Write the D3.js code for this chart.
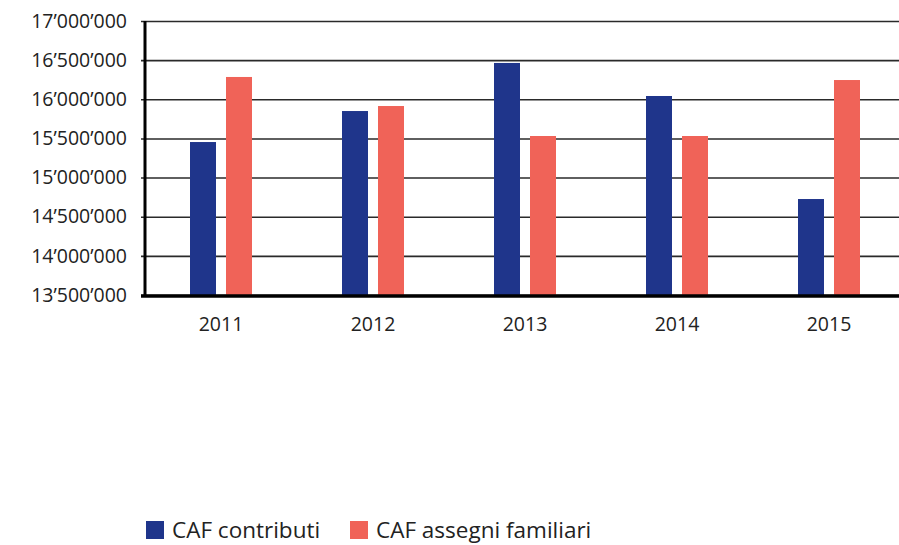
<!DOCTYPE html>
<html>
<head>
<meta charset="utf-8">
<script src="https://cdn.jsdelivr.net/npm/d3@7"></script>
<style>
  body { margin: 0; background: #fff; }
  text { font-family: "Open Sans", "Noto Sans", sans-serif; fill: #222; }
</style>
</head>
<body>
<script>
var width = 899,
    height = 545

// data
var years = ["2011", "2012", "2013", "2014", "2015"];
var contributi = [15454000, 15850000, 16464000, 16042000, 14726000];
var assegni = [16285000, 15914000, 15531000, 15531000, 16246000];
var series = ["CAF contributi", "CAF assegni familiari"];
var colors = ["#1f358b", "#f06358"];
var yTicks = [13500000, 14000000, 14500000, 15000000, 15500000, 16000000, 16500000, 17000000];

var margin = {left: 145, top: 21, bottom: 295, right: 905};

var svg = d3.select("body").append("svg")
    .attr("width", width)
    .attr("height", height);

var x = d3.scaleBand()
    .domain(years)
    .range([margin.left, margin.right]);

// two bars of 26px with a 10px gap, centred in the band
var x1 = d3.scaleBand()
    .domain(series)
    .range([x.bandwidth() / 2 - 31, x.bandwidth() / 2 + 31])
    .paddingInner(10 / 36);

var y = d3.scaleLinear()
    .domain([13500000, 17000000])
    .range([margin.bottom, margin.top]);

var fmt = function(d) {
    return d3.format(",")(d).replace(/,/g, "\u2019");
};

// gridlines + y labels
var yAxis = d3.axisLeft(y)
    .tickValues(yTicks)
    .tickSize(-(width - margin.left + 4))
    .tickPadding(14)
    .tickFormat(fmt);

var gy = svg.append("g")
    .attr("transform", "translate(" + (margin.left - 4) + ",0)")
    .call(yAxis);
gy.select(".domain").remove();
gy.selectAll(".tick line")
    .attr("stroke", "#2a2a2a")
    .attr("stroke-width", 1.6);
gy.selectAll(".tick text")
    .style("font-size", "19.5px")
    .attr("fill", "#222");

// bars
var groups = svg.selectAll(".year")
    .data(years)
    .enter().append("g")
    .attr("class", "year")
    .attr("transform", function(d) { return "translate(" + x(d) + ",0)"; });

groups.selectAll("rect")
    .data(function(d, i) {
        return [{s: series[0], v: contributi[i]}, {s: series[1], v: assegni[i]}];
    })
    .enter().append("rect")
    .attr("x", function(d) { return x1(d.s); })
    .attr("width", x1.bandwidth())
    .attr("y", function(d) { return y(d.v); })
    .attr("height", function(d) { return y.range()[0] - y(d.v); })
    .attr("fill", function(d, i) { return colors[i]; });

// axis lines
svg.append("line")
    .attr("x1", margin.left).attr("x2", margin.left)
    .attr("y1", margin.top).attr("y2", margin.bottom)
    .attr("stroke", "#000").attr("stroke-width", 3);
svg.append("line")
    .attr("x1", margin.left - 4).attr("x2", width)
    .attr("y1", margin.bottom + 1).attr("y2", margin.bottom + 1)
    .attr("stroke", "#000").attr("stroke-width", 3.5);

// x labels
var xAxis = d3.axisBottom(x).tickSize(0).tickPadding(22);
var gx = svg.append("g")
    .attr("transform", "translate(0," + margin.bottom + ")")
    .call(xAxis);
gx.select(".domain").remove();
gx.selectAll(".tick text")
    .style("font-size", "19.5px")
    .attr("fill", "#222");

// legend
var legendX = [146, 350];
var legend = svg.selectAll(".legend")
    .data(series)
    .enter().append("g")
    .attr("class", "legend")
    .attr("transform", function(d, i) { return "translate(" + legendX[i] + ",521)"; });
legend.append("rect")
    .attr("width", 18).attr("height", 18)
    .attr("fill", function(d, i) { return colors[i]; });
legend.append("text")
    .attr("x", 26)
    .attr("y", 17)
    .style("font-size", "22.5px")
    .text(function(d) { return d; });
</script>
</body>
</html>
